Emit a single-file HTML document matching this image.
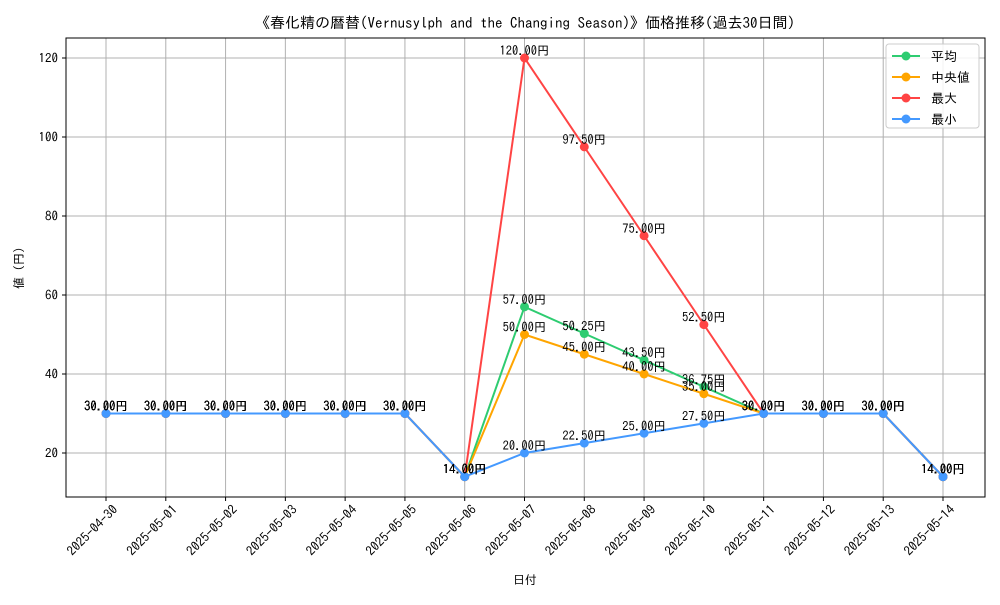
<!DOCTYPE html>
<html><head><meta charset="utf-8"><style>
body{margin:0;background:#fff;}
svg text{font-family:"IPAGothic","Liberation Sans","Noto Sans CJK JP",sans-serif;}
</style></head><body>
<svg id="chart" width="1000" height="600" xmlns="http://www.w3.org/2000/svg">
<rect width="1000" height="600" fill="#fff"/>
<text x="525" y="28" text-anchor="middle" font-size="15">《春化精の暦替(Vernusylph and the Changing Season)》価格推移(過去30日間)</text>
<g id="grid"></g><g id="series"></g><g id="labels"></g>
<rect x="66" y="38" width="919" height="459" fill="none" stroke="#000" stroke-width="1"/>
<g id="axes"></g>
<text x="525" y="584" text-anchor="middle" font-size="12">日付</text>
<text transform="translate(23,268) rotate(-90)" text-anchor="middle" font-size="12">値 (円)</text>
<g id="legend"></g>
</svg>
<script>
const dates=["2025-04-30","2025-05-01","2025-05-02","2025-05-03","2025-05-04","2025-05-05","2025-05-06","2025-05-07","2025-05-08","2025-05-09","2025-05-10","2025-05-11","2025-05-12","2025-05-13","2025-05-14"];
const meanVals=[30,30,30,30,30,30,14,57,50.25,43.5,36.75,30,30,30,14];
const medianVals=[30,30,30,30,30,30,14,50,45,40,35,30,30,30,14];
const maxVals=[30,30,30,30,30,30,14,120,97.5,75,52.5,30,30,30,14];
const minVals=[30,30,30,30,30,30,14,20,22.5,25,27.5,30,30,30,14];
const yTicks=[20,40,60,80,100,120];
const seriesNames=["平均","中央値","最大","最小"];
const NS="http://www.w3.org/2000/svg";
const X0=106,XSTEP=(943-106)/14;
function xs(i){return X0+i*XSTEP;}
function ys(v){return 453-(v-20)*3.95;}
function mk(tag,attrs,parent){const e=document.createElementNS(NS,tag);for(const k in attrs)e.setAttribute(k,attrs[k]);parent.appendChild(e);return e;}
const grid=document.getElementById('grid'),axes=document.getElementById('axes');
dates.forEach((d,i)=>{
  const l=mk('line',{x1:xs(i),x2:xs(i),y1:38,y2:497,stroke:'#b0b0b0','stroke-width':1},grid);
  
  
  mk('line',{x1:xs(i),x2:xs(i),y1:497,y2:501,stroke:'#000'},axes);
  const t=mk('text',{transform:`translate(${xs(i)+6},${504}) rotate(-45)`,'text-anchor':'end','font-size':13,dy:'0.7em'},axes);
  
  
  t.textContent=d;
});
yTicks.forEach(v=>{
  const l=mk('line',{x1:66,x2:985,y1:ys(v),y2:ys(v),stroke:'#b0b0b0','stroke-width':1},grid);
  
  
  mk('line',{x1:62,x2:66,y1:ys(v),y2:ys(v),stroke:'#000'},axes);
  const t=mk('text',{x:58,y:ys(v)+4.5,'text-anchor':'end','font-size':13},axes);
  
  
  t.textContent=v;
});
const seriesData=[meanVals,medianVals,maxVals,minVals];
const colors=["#2ecc71","#ffa500","#ff4444","#4499ff"];
const keys=["mean","median","max","min"];
const sg=document.getElementById('series'),lg=document.getElementById('labels');
seriesData.forEach((vals,s)=>{
  const p=mk('polyline',{points:vals.map((v,i)=>xs(i)+','+ys(v)).join(' '),fill:'none',stroke:colors[s],'stroke-width':2},sg);
  
  
  vals.forEach((v,i)=>{
    const c=mk('circle',{cx:xs(i),cy:ys(v),r:4.5,fill:colors[s]},sg);
    
    
    const t=mk('text',{x:xs(i),y:ys(v)-3,'text-anchor':'middle','font-size':12.5},lg);
    
    
    t.textContent=v.toFixed(2)+'円';
  });
});
const leg=document.getElementById('legend');
mk('rect',{x:886,y:44,width:93,height:84,rx:3,fill:'#fff','fill-opacity':0.85,stroke:'#ccc'},leg);
seriesNames.forEach((n,s)=>{
  const y=56+s*21;
  const l=mk('line',{x1:892,x2:920,y1:y,y2:y,stroke:colors[s],'stroke-width':2},leg);
  
  
  mk('circle',{cx:906,cy:y,r:4.5,fill:colors[s]},leg);
  const t=mk('text',{x:931,y:y+5,'font-size':13},leg);
  
  
  t.textContent=(s===1?' ':'')+n;
});
</script>
</body></html>
